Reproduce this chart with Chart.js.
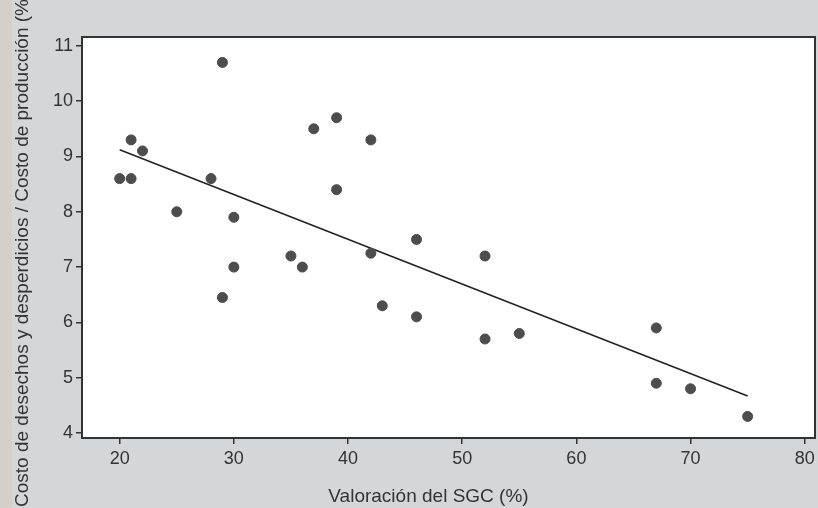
<!DOCTYPE html>
<html>
<head>
<meta charset="utf-8">
<script src="https://cdn.jsdelivr.net/npm/chart.js@4/dist/chart.umd.min.js"></script>
<style>
  html, body { margin: 0; padding: 0; background: #d3d7da; }
  #wrap { width: 818px; height: 508px; }
</style>
</head>
<body>
<div id="wrap"><canvas id="sgcChart"></canvas></div>
<script>
// valores
const sgc   = [20, 21, 21, 22, 25, 28, 29, 29, 30, 30, 35, 36, 37, 39, 39, 42, 42, 43, 46, 46, 52, 52, 55, 67, 67, 70, 75];
const costo = [8.6, 9.3, 8.6, 9.1, 8.0, 8.6, 10.7, 6.45, 7.9, 7.0, 7.2, 7.0, 9.5, 9.7, 8.4, 9.3, 7.25, 6.3, 7.5, 6.1, 7.2, 5.7, 5.8, 5.9, 4.9, 4.8, 4.3];

// recta de regresión (extremos)
const fitX = [20, 75];
const fitY = [9.12, 4.67];

const xTicks = [20, 30, 40, 50, 60, 70, 80];
const yTicks = [4, 5, 6, 7, 8, 9, 10, 11];

const xTitle = 'Valoración del SGC (%)';
const yTitle = 'Costo de desechos y desperdicios / Costo de producción (%)';

const points = sgc.map((v, i) => ({ x: v, y: costo[i] }));
const fitLine = fitX.map((v, i) => ({ x: v, y: fitY[i] }));

const FONT = '"Liberation Sans", Arial, sans-serif';

// fondo gris, área blanca con marco y títulos de ejes
const frame = {
    id: 'frame',
    beforeDraw(chart) {
        const { ctx, chartArea: a } = chart;
        ctx.save();
        ctx.fillStyle = '#d3d7da';
        ctx.fillRect(0, 0, chart.width, chart.height);
        ctx.fillStyle = '#d4cfc8';
        ctx.fillRect(0, 0, 12, chart.height);
        ctx.fillStyle = '#ffffff';
        ctx.fillRect(a.left, a.top, a.right - a.left, a.bottom - a.top);
        ctx.restore();
    },
    afterDraw(chart) {
        const { ctx, chartArea: a } = chart;
        ctx.save();
        ctx.strokeStyle = '#333';
        ctx.lineWidth = 2;
        ctx.strokeRect(a.left, a.top, a.right - a.left, a.bottom - a.top);

        ctx.fillStyle = '#333';
        ctx.font = '19px ' + FONT;
        ctx.textBaseline = 'middle';
        // eje x: algo a la izquierda del centro, como en el original
        ctx.textAlign = 'center';
        ctx.fillText(xTitle, (a.left + a.right) / 2 - 20, 497);
        // eje y: empieza abajo del todo y se corta arriba
        ctx.translate(23, 507);
        ctx.rotate(-Math.PI / 2);
        ctx.textAlign = 'left';
        ctx.fillText(yTitle, 0, 0);
        ctx.restore();
    }
};

const tickFont = { family: FONT, size: 18 };

new Chart(document.getElementById('sgcChart'), {
    type: 'scatter',
    data: {
        datasets: [
            {
                data: points,
                backgroundColor: '#4d4d4d',
                borderColor: '#4d4d4d',
                pointRadius: 5,
                pointHoverRadius: 5
            },
            {
                type: 'line',
                data: fitLine,
                borderColor: '#222',
                borderWidth: 1.6,
                pointRadius: 0,
                fill: false
            }
        ]
    },
    options: {
        responsive: true,
        maintainAspectRatio: false,
        animation: false,
        layout: { autoPadding: false, padding: { left: 8, top: 37, right: 3, bottom: 1 } },
        plugins: {
            legend: { display: false },
            tooltip: { enabled: false }
        },
        scales: {
            x: {
                type: 'linear',
                min: 16.7,
                max: 80.9,
                afterBuildTicks: s => { s.ticks = xTicks.map(v => ({ value: v })); },
                afterFit: s => { s.height = 69; s.paddingLeft = 0; s.paddingRight = 0; },
                grid: { drawOnChartArea: false, drawTicks: true, tickLength: 6, color: '#333', lineWidth: 1.5 },
                border: { display: false },
                ticks: { color: '#333', font: tickFont, padding: 4, maxRotation: 0 }
            },
            y: {
                min: 3.91,
                max: 11.16,
                afterBuildTicks: s => { s.ticks = yTicks.map(v => ({ value: v })); },
                afterFit: s => { s.width = 74; s.paddingTop = 0; s.paddingBottom = 0; },
                grid: { drawOnChartArea: false, drawTicks: true, tickLength: 6, color: '#333', lineWidth: 1.5 },
                border: { display: false },
                ticks: { color: '#333', font: tickFont, padding: 3 }
            }
        }
    },
    plugins: [frame]
});
</script>
</body>
</html>
